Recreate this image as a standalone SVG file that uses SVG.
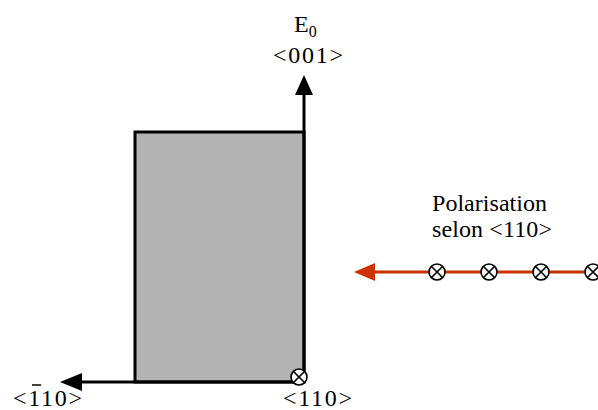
<svg xmlns="http://www.w3.org/2000/svg" width="598" height="410" viewBox="0 0 598 410">
<style>
text{font-family:'Liberation Serif','DejaVu Serif','Times New Roman',serif;font-size:24px;fill:#000}
.ax{stroke:#000;stroke-width:3;fill:none}
.red{stroke:#cc3300;stroke-width:3;fill:none}
.cx{fill:#fff;stroke:#000;stroke-width:1.6}
</style>
<defs>
<g id="otimes">
<circle r="8" class="cx"/>
<path d="M-5.5,-5.5 L5.5,5.5 M5.5,-5.5 L-5.5,5.5" stroke="#000" stroke-width="1.6"/>
</g>
</defs>
<rect width="598" height="410" fill="#fff"/>
<g id="crystal">
<rect x="135" y="132" width="169" height="250" fill="#b3b3b3" stroke="#000" stroke-width="3"/>
</g>
<g id="connectors">
<line class="ax" x1="304" y1="383" x2="304" y2="92"/>
<polygon points="304,75 295,95 313,95" fill="#000"/>
<line class="ax" x1="304" y1="382" x2="80" y2="382"/>
<polygon points="60,382 82,373 82,391" fill="#000"/>
<line class="red" x1="372" y1="272" x2="598" y2="272"/>
<polygon points="354,272 375,263 375,281" fill="#cc3300"/>
</g>
<g id="markers">
<use href="#otimes" x="299" y="377"/>
<use href="#otimes" x="437" y="272"/>
<use href="#otimes" x="489" y="272"/>
<use href="#otimes" x="541" y="272"/>
<use href="#otimes" x="593" y="272"/>
</g>
<g id="labels" font-family="'Liberation Serif','DejaVu Serif',serif">
<text x="294" y="32">E<tspan font-size="16" dy="5">0</tspan></text>
<text x="308" y="63" text-anchor="middle" textLength="70">&lt;001&gt;</text>
<text x="13" y="406" textLength="69">&lt;110&gt;</text>
<line x1="32" y1="385" x2="41" y2="385" stroke="#000" stroke-width="1.5"/>
<text x="283" y="406" textLength="69">&lt;110&gt;</text>
<text x="432" y="211" textLength="115">Polarisation</text>
<text x="432" y="237" textLength="120">selon &lt;110&gt;</text>
</g>
</svg>
